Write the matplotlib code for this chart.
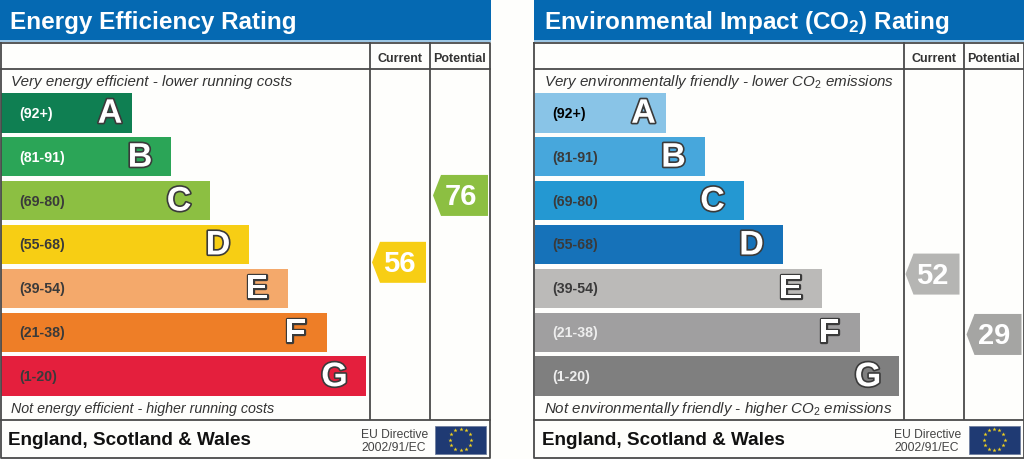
import numpy as np
import matplotlib
matplotlib.use("Agg")
import matplotlib.pyplot as plt
import matplotlib.patheffects as pe
from matplotlib.patches import Polygon, Rectangle

plt.rcParams['font.family'] = ['Liberation Sans', 'DejaVu Sans']
plt.rcParams['mathtext.fontset'] = 'custom'
plt.rcParams['mathtext.rm'] = 'Liberation Sans'
plt.rcParams['mathtext.it'] = 'Liberation Sans:italic'
plt.rcParams['mathtext.bf'] = 'Liberation Sans:bold'

letters = ['A', 'B', 'C', 'D', 'E', 'F', 'G']
range_labels = ['(92+)', '(81-91)', '(69-80)', '(55-68)', '(39-54)', '(21-38)', '(1-20)']
band_high = [100, 91, 80, 68, 54, 38, 20]
band_low = [92, 81, 69, 55, 39, 21, 1]
band_lengths = [131, 170, 209, 248, 287, 325.5, 364.5]

energy_colors = ['#0f7f52', '#2ba557', '#8cbf42', '#f7ce14', '#f4a96b', '#ee7e27', '#e41f3d']
co2_colors = ['#89c4e7', '#47a7dc', '#2498d2', '#1672b9', '#bbbab8', '#a09fa0', '#7f7f7f']
energy_label_colors = ['white', 'white', '#3a3a3a', '#3a3a3a', '#3a3a3a', '#3a3a3a', '#3a3a3a']
co2_label_colors = ['black', '#3a3a3a', '#3a3a3a', '#3a3a3a', '#3a3a3a', '#eeeeee', '#eeeeee']

energy_current, energy_potential = 56, 76
co2_current, co2_potential = 52, 29

LINE = '#4a4a4a'
BLUE = '#0569b2'

fig = plt.figure(figsize=(10.24, 4.6), dpi=100, facecolor='#fefefc')
ax = fig.add_axes([0, 0, 1, 1])
ax.set_xlim(0, 1024)
ax.set_ylim(460, 0)
ax.axis('off')

BAND_TOP, BAND_STEP, BAND_H = 94, 43.9, 39.5


def score_y(v):
    for i, (hi, lo) in enumerate(zip(band_high, band_low)):
        if lo <= v <= hi:
            return BAND_TOP + i * BAND_STEP + (hi - v) / (hi - lo + 1) * BAND_STEP
    raise ValueError(v)


def arrow(x0, x1, v, color):
    yc = score_y(v)
    h = 20.5
    ax.add_patch(Polygon([(x0, yc), (x0 + 8, yc - h), (x1, yc - h), (x1, yc + h), (x0 + 8, yc + h)],
                         closed=True, fc=color, ec='none', zorder=4))
    ax.text((x0 + x1) / 2, yc + 1, str(v), color='white', fontsize=21, fontweight='bold',
            ha='center', va='center', zorder=5)


def panel(x0, title, top_text, bottom_text, bottom_size, colors, label_colors, cur, pot, cur_col, pot_col):
    ax.add_patch(Rectangle((x0, 0), 491, 41, fc=BLUE, ec='none'))
    ax.add_patch(Rectangle((x0, 41), 491, 1.5, fc='#9cc6e4', ec='none'))
    ax.text(x0 + 10, 22, title, color='white', fontsize=17.5, fontweight='bold', va='center', ha='left')

    # Frame
    x_cur, x_pot, x_end = x0 + 370, x0 + 430, x0 + 490
    lw = 1.3
    ax.plot([x0 + 0.5, x_end, x_end, x0 + 0.5, x0 + 0.5], [44, 44, 459, 459, 44], color=LINE, lw=lw, zorder=6)
    ax.plot([x0, x_end], [69.5, 69.5], color=LINE, lw=lw, zorder=6)
    ax.plot([x0, x_end], [420.5, 420.5], color=LINE, lw=lw, zorder=6)
    ax.plot([x_cur, x_cur], [44, 420], color=LINE, lw=lw, zorder=6)
    ax.plot([x_pot, x_pot], [44, 420], color=LINE, lw=lw, zorder=6)

    ax.text((x_cur + x_pot) / 2, 58.5, 'Current', fontsize=9, fontweight='bold',
            color='#333333', ha='center', va='center')
    ax.text((x_pot + x_end) / 2, 58.5, 'Potential', fontsize=9, fontweight='bold',
            color='#333333', ha='center', va='center')

    ax.text(x0 + 11, 82, top_text, fontsize=10.9, style='italic', color='#333333', va='center')
    ax.text(x0 + 11, 409, bottom_text, fontsize=bottom_size, style='italic', color='#333333', va='center')

    ys = [BAND_TOP + i * BAND_STEP for i in range(len(letters))]
    ax.barh(ys, band_lengths, height=BAND_H, left=x0 + 1, align='edge', color=colors, edgecolor='none', zorder=2)
    for y, length, letter, rl, lc in zip(ys, band_lengths, letters, range_labels, label_colors):
        ax.text(x0 + 19, y + BAND_H / 2, rl, fontsize=10.2, fontweight='bold', color=lc, va='center', zorder=3)
        inset = 21 if letter == 'A' else 30
        ax.text(x0 + length - inset, y + BAND_H / 2 + 1.5, letter, fontsize=24.5, fontweight='bold', color='white',
                ha='center', va='center', zorder=3,
                path_effects=[pe.withStroke(linewidth=2.4, foreground='#3a3a3a')])

    arrow(x_cur + 2, x_cur + 56, cur, cur_col)
    arrow(x_pot + 3, x_pot + 58, pot, pot_col)

    ax.text(x0 + 8, 441, 'England, Scotland & Wales', fontsize=13.6, fontweight='bold', color='#111111', va='center')
    ax.text(x0 + 361, 435, 'EU Directive', fontsize=8.7, color='#444444', va='center')
    ax.text(x0 + 361, 448.5, '2002/91/EC', fontsize=8.7, color='#444444', va='center')

    # EU flag
    fx, fy, fw, fh = x0 + 435, 426.5, 51, 28
    ax.add_patch(Rectangle((fx, fy), fw, fh, fc='#1f3a73', ec='#6f7f9f', lw=0.6, zorder=3))
    ang = np.deg2rad(np.arange(0, 360, 30))
    ax.scatter(fx + fw / 2 + 10.5 * np.cos(ang), fy + fh / 2 + 10.5 * np.sin(ang), marker='*', s=10,
               color='#f2d21e', linewidths=0, zorder=4)


panel(0, 'Energy Efficiency Rating',
      'Very energy efficient - lower running costs',
      'Not energy efficient - higher running costs', 10.3,
      energy_colors, energy_label_colors, energy_current, energy_potential, '#f7ce14', '#8cbf42')
panel(533.5, r'Environmental Impact (CO$_{\mathbf{2}}$) Rating',
      r'Very environmentally friendly - lower CO$_{\mathrm{2}}$ emissions',
      r'Not environmentally friendly - higher CO$_{\mathrm{2}}$ emissions', 10.9,
      co2_colors, co2_label_colors, co2_current, co2_potential, '#b5b5b3', '#a5a5a3')

fig.savefig('out.png', dpi=100, facecolor=fig.get_facecolor())
